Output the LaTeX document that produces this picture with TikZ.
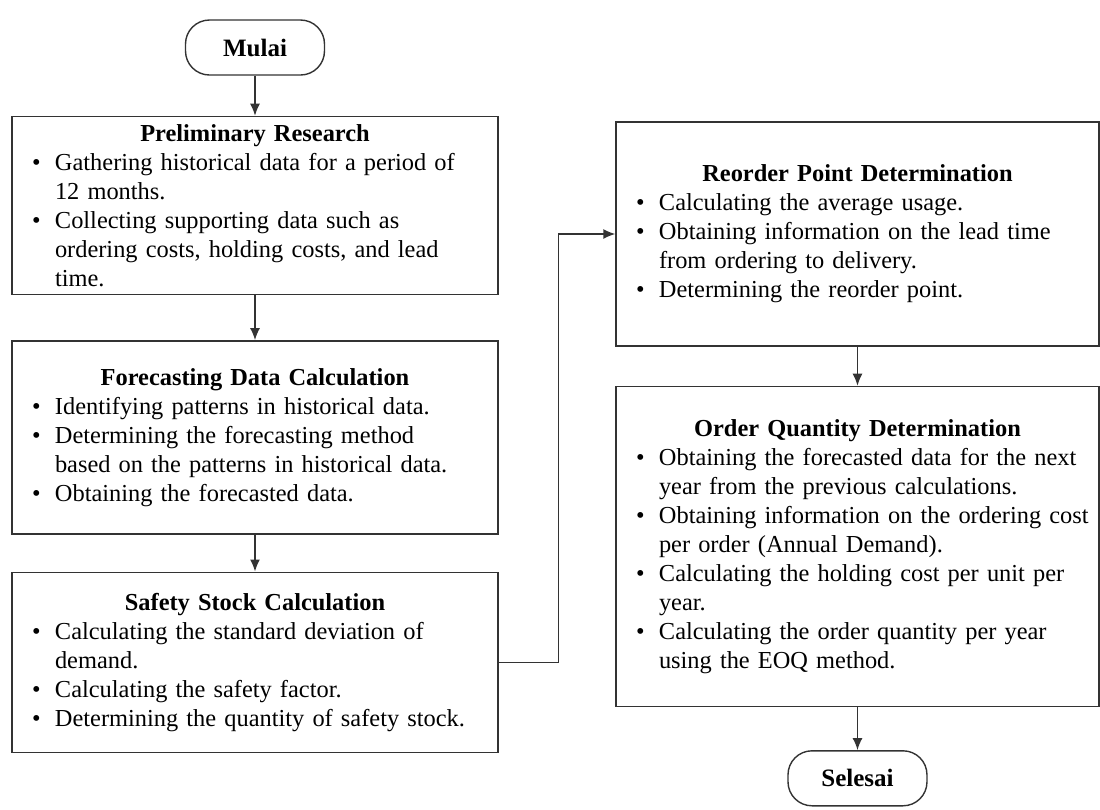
\documentclass[tikz,border=0pt]{standalone}
\usepackage{fontspec}
\setmainfont{Liberation Serif}
\usetikzlibrary{positioning,arrows.meta}

\newcommand{\boxtitle}[1]{{\noindent\centering\bfseries #1\par}}
\newcommand{\bitem}[1]{\rightskip=-6pt plus 1fil\hangindent=21.5pt\hangafter=1\noindent\hbox to 21.5pt{\hskip10pt\textbullet\hfil}#1\par}
\newcommand{\nl}{\break}

\begin{document}
\begin{tikzpicture}[x=0.5pt, y=-0.5pt,
    stepbox/.style={draw=black!80, line width=0.7pt, inner xsep=0pt, inner ysep=2pt,
        align=left, font=\fontsize{12.2pt}{14.5pt}\selectfont},
    terminal/.style={draw=black!80, line width=0.7pt, rounded corners=12pt,
        minimum width=69.5pt, minimum height=27.5pt, font=\fontsize{12.5pt}{14.5pt}\selectfont\bfseries},
    flow/.style={draw=black!80, line width=0.7pt, -{Latex[length=6pt,width=5pt]}}]
\useasboundingbox (0,0) rectangle (1100,810);

% left column
\node[terminal] (mulai) at (255,47.5) {Mulai};
\node[stepbox, text width=243pt, minimum height=89pt, below=20pt of mulai] (prelim) {
    \boxtitle{Preliminary Research}
    \bitem{Gathering historical data for a period of\nl 12 months.}
    \bitem{Collecting supporting data such as\nl ordering costs, holding costs, and lead\nl time.}};
\draw[flow] (mulai) -- (prelim);

\node[stepbox, text width=243pt, minimum height=96.5pt, below=22.5pt of prelim] (forecast) {
    \boxtitle{Forecasting Data Calculation}
    \bitem{Identifying patterns in historical data.}
    \bitem{Determining the forecasting method\nl based on the patterns in historical data.}
    \bitem{Obtaining the forecasted data.}};
\draw[flow] (prelim) -- (forecast);

\node[stepbox, text width=243pt, minimum height=90pt, below=18.5pt of forecast] (safety) {
    \boxtitle{Safety Stock Calculation}
    \bitem{Calculating the standard deviation of\nl demand.}
    \bitem{Calculating the safety factor.}
    \bitem{Determining the quantity of safety stock.}};
\draw[flow] (forecast) -- (safety);

% right column
\node[stepbox, text width=241.5pt, minimum height=112pt] (reorder) at (857.5,234) {
    \boxtitle{Reorder Point Determination}
    \bitem{Calculating the average usage.}
    \bitem{Obtaining information on the lead time\nl from ordering to delivery.}
    \bitem{Determining the reorder point.}};
\draw[flow] (safety.east) -- ++(60,0) |- (reorder.west);

\node[stepbox, text width=241.5pt, minimum height=160pt, below=19.5pt of reorder] (orderqty) {
    \boxtitle{Order Quantity Determination}
    \bitem{Obtaining the forecasted data for the next\nl year from the previous calculations.}
    \bitem{Obtaining information on the ordering cost\nl per order (Annual Demand).}
    \bitem{Calculating the holding cost per unit per\nl year.}
    \bitem{Calculating the order quantity per year\nl using the EOQ method.}};
\draw[flow] (reorder) -- (orderqty);

\node[terminal, below=21.5pt of orderqty] (selesai) {Selesai};
\draw[flow] (orderqty) -- (selesai);
\end{tikzpicture}
\end{document}
